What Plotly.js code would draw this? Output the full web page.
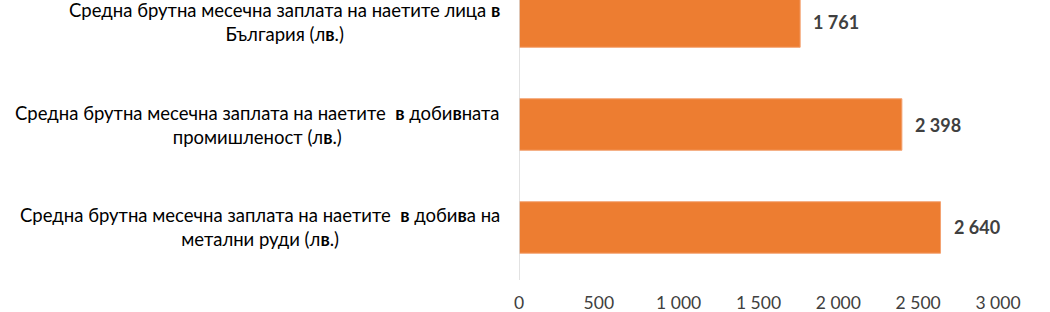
<!DOCTYPE html>
<html>
<head>
<meta charset="utf-8">
<script src="https://cdn.plot.ly/plotly-3.0.1.min.js"></script>
<style>html,body{margin:0;padding:0;background:#fff;}#chart{width:1050px;height:312px;}</style>
</head>
<body>
<div id="chart"></div>
<script>
var categories = [
  "Средна брутна месечна заплата на наетите лица <b>в</b><br>България (л<b>в</b>.)",
  "Средна брутна месечна заплата на наетите  <b>в</b> доби<b>в</b>ната<br>промишленост (л<b>в</b>.)",
  "Средна брутна месечна заплата на наетите  <b>в</b> доби<b>в</b>а на<br>метални руди (л<b>в</b>.)"
];
var values = [1761, 2398, 2640];
var tickValues = [0, 500, 1000, 1500, 2000, 2500, 3000];
var tickLabels = ["0", "500", "1 000", "1 500", "2 000", "2 500", "3 000"];

function fmt(v) { return String(v).replace(/\B(?=(\d{3})+(?!\d))/g, " "); }

var idx = categories.map(function (c, i) { return i; });
var FONT = "Lato, 'Open Sans', sans-serif";

var trace = {
  type: "bar",
  orientation: "h",
  x: values,
  y: idx,
  width: 0.5,
  marker: { color: "#ED7D31", line: { color: "#F4A271", width: 1 } },
  hoverinfo: "none"
};

var annotations = [];
categories.forEach(function (c, i) {
  annotations.push({
    xref: "paper", yref: "y", x: -0.035, y: i,
    xanchor: "right", yanchor: "middle", align: "center",
    text: c, showarrow: false,
    font: { family: FONT, size: 18.5, color: "#000000" }
  });
  annotations.push({
    xref: "x", yref: "y", x: values[i], y: i,
    xanchor: "left", yanchor: "middle", xshift: 11,
    text: "<b>" + fmt(values[i]) + "</b>", showarrow: false,
    font: { family: FONT, size: 18, color: "#404040" }
  });
});

var layout = {
  width: 1050, height: 312,
  margin: { l: 519, r: 52, t: 0, b: 32 },
  paper_bgcolor: "#ffffff", plot_bgcolor: "#ffffff",
  showlegend: false,
  xaxis: {
    range: [0, 3000],
    tickvals: tickValues, ticktext: tickLabels,
    showgrid: false, zeroline: false, showline: false,
    ticks: "outside", ticklen: 7, tickcolor: "rgba(0,0,0,0)",
    tickfont: { family: FONT, size: 17.5, color: "#404040" },
    fixedrange: true
  },
  yaxis: {
    range: [2.51, -0.209],
    showticklabels: false, showgrid: false, zeroline: false,
    fixedrange: true
  },
  shapes: [{
    type: "line", xref: "x", yref: "paper", x0: 0, x1: 0, y0: 0, y1: 1,
    line: { color: "#D9D9D9", width: 1.5 }
  }],
  annotations: annotations
};

Plotly.newPlot("chart", [trace], layout, { displayModeBar: false, staticPlot: true });
</script>
</body>
</html>
